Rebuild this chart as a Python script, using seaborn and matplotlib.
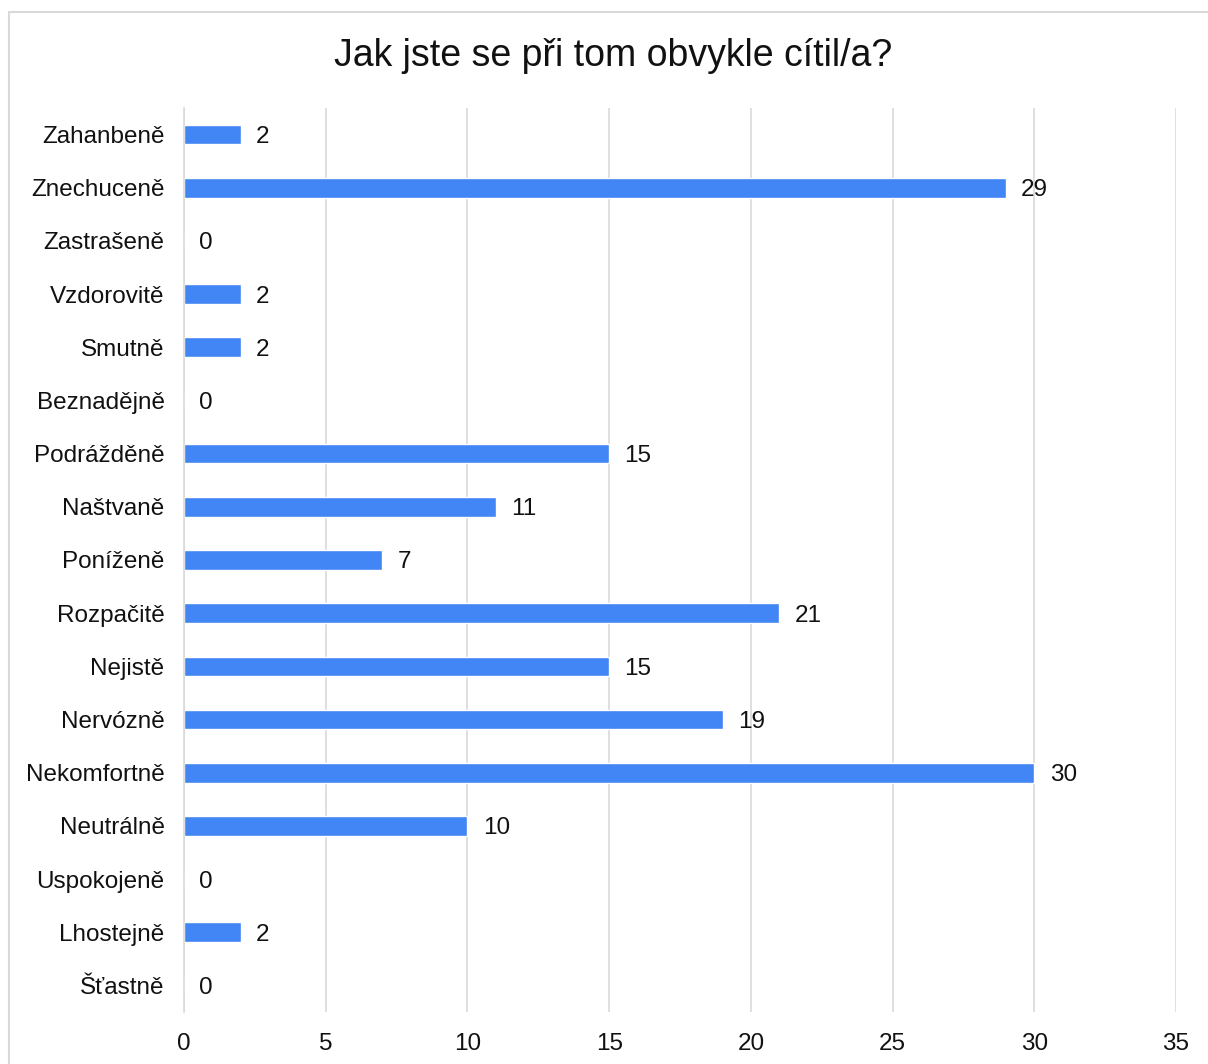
import matplotlib
matplotlib.use("Agg")
import matplotlib.pyplot as plt
from matplotlib.patches import Rectangle
import seaborn as sns
import pandas as pd

categories = ["Zahanbeně", "Znechuceně", "Zastrašeně", "Vzdorovitě", "Smutně",
              "Beznadějně", "Podrážděně", "Naštvaně", "Poníženě", "Rozpačitě",
              "Nejistě", "Nervózně", "Nekomfortně", "Neutrálně", "Uspokojeně",
              "Lhostejně", "Šťastně"]
counts = [2, 29, 0, 2, 2, 0, 15, 11, 7, 21, 15, 19, 30, 10, 0, 2, 0]
x_ticks = [0, 5, 10, 15, 20, 25, 30, 35]
title = "Jak jste se při tom obvykle cítil/a?"

df = pd.DataFrame({"kategorie": categories, "pocet": counts})

sns.set_theme(style="white")
plt.rcParams["font.family"] = ["Liberation Sans", "DejaVu Sans"]

W, H = 1208, 1064
fig = plt.figure(figsize=(W / 100, H / 100), dpi=100)
fig.patch.set_facecolor("white")

# light frame around the chart area
fig.add_artist(Rectangle((9 / W, -0.05), 1.2, 1 - 12 / H + 0.05,
                         transform=fig.transFigure, fill=False,
                         edgecolor="#d9d9d9", linewidth=1.5))

ax = fig.add_axes([184 / W, 1 - 1012 / H, (1176 - 184) / W, (1012 - 108) / H])

sns.barplot(data=df, y="kategorie", x="pocet", orient="h", color="#4285F4",
            width=0.37, saturation=1, ax=ax, order=categories)

text_color = "#111111"
ax.set_xlim(0, 35)
ax.set_ylim(len(categories) - 0.5, -0.5)
ax.set_xticks(x_ticks)
ax.set_xticklabels([str(t) for t in x_ticks])
ax.xaxis.grid(True, color="#d9d9d9", linewidth=1.2)
ax.yaxis.grid(False)
ax.set_axisbelow(True)
for side in ["top", "right", "bottom"]:
    ax.spines[side].set_visible(False)
ax.spines["left"].set_color("#d9d9d9")
ax.spines["left"].set_linewidth(1.2)
ax.set_xlabel("")
ax.set_ylabel("")
ax.tick_params(axis="y", length=0, pad=14, labelsize=17.5, labelcolor=text_color)
ax.tick_params(axis="x", length=0, pad=15, labelsize=17.5, labelcolor=text_color)

for container in ax.containers:
    labels = ax.bar_label(container, labels=[str(v) for v in counts], padding=11,
                          fontsize=17.5, color=text_color)
    for t in labels:
        t.set_va("center_baseline")

fig.text(613 / W, 1 - 56 / H, title, ha="center", va="center",
         fontsize=27, color=text_color)

fig.savefig("out.png", dpi=100)
